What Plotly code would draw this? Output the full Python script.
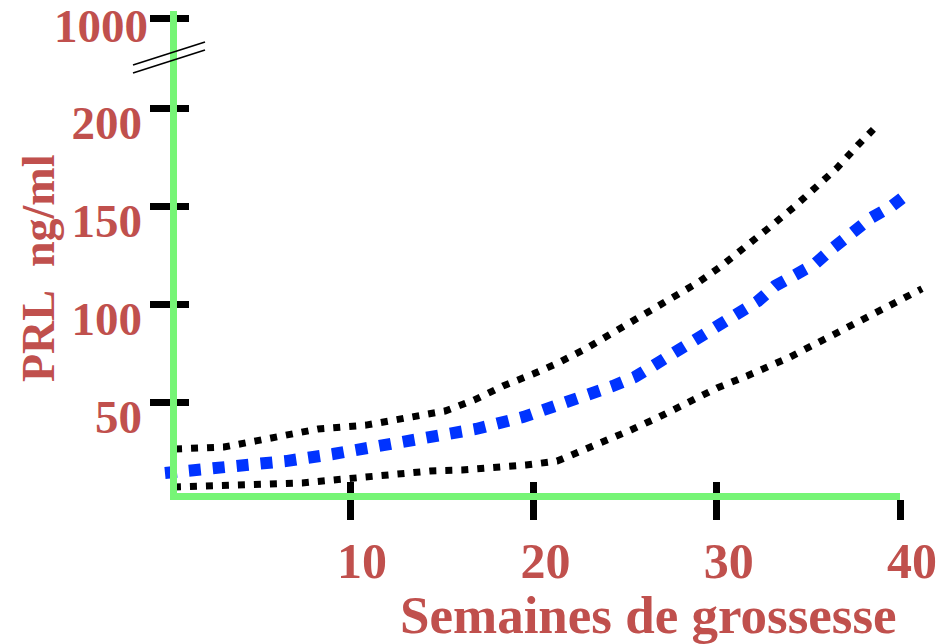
import plotly.graph_objects as go

# ---------------- data ----------------
weeks_upper = [0.45, 3.12, 4.87, 6.56, 8.25, 10.87, 13.49, 15.18, 16.76, 18.34, 19.98,
               21.34, 22.92, 24.40, 25.92, 27.40, 28.93, 30.18, 31.60, 32.91, 34.22,
               35.25, 36.56, 37.71, 38.31, 38.55]
prl_upper = [26.1, 27.1, 30.2, 33.7, 36.3, 38.3, 42.4, 45.5, 51.1, 58.3, 64.4,
             70.0, 77.7, 85.9, 94.1, 102.2, 110.9, 119.1, 129.3, 139.6, 149.8,
             159.0, 169.7, 181.5, 187.6, 189.5]

weeks_mean = [-0.10, 1.32, 3.94, 6.50, 9.07, 11.69, 14.25, 16.87, 19.43, 20.63, 21.83,
              23.09, 24.34, 25.54, 26.69, 27.83, 28.93, 30.02, 31.27, 32.25, 33.18,
              34.33, 35.36, 36.34, 37.38, 38.42, 39.56, 40.33]
prl_mean = [13.8, 14.8, 16.9, 19.9, 23.5, 27.6, 31.7, 36.3, 42.4, 46.0, 50.6,
            54.7, 58.3, 62.9, 69.5, 75.2, 82.3, 88.4, 95.6, 101.7, 109.4,
            116.1, 120.7, 128.8, 136.5, 144.2, 150.3, 155.9]

weeks_lower = [0.39, 3.01, 5.63, 7.38, 9.07, 10.87, 12.56, 14.36, 16.10, 17.80, 19.60,
               21.29, 22.11, 23.74, 25.32, 26.85, 28.43, 30.02, 31.65, 34.00, 36.34,
               37.87, 39.40, 40.98, 41.20]
prl_lower = [6.6, 7.2, 7.7, 8.7, 10.2, 11.8, 13.3, 14.8, 15.3, 16.4, 17.9,
             19.9, 23.0, 29.1, 35.8, 42.4, 49.6, 57.3, 63.4, 73.1, 84.4,
             92.0, 99.7, 106.9, 108.0]

x_ticks = [10, 20, 30, 40]
y_ticks_low = [50, 100, 150, 200]
y_ticks_high = [1000]

x_title = "Semaines de grossesse"
y_title = "PRL\u00a0\u00a0ng/ml"

# ---------------- geometry / style ----------------
W, H = 942, 644
GREEN = "#76f576"
RED = "#c0504d"
BLUE = "#0033ff"
FONT = "Liberation Serif"
LW = 7               # axis line width

SX = 18.33           # px per week
X40 = 900            # px of week 40
SY = 1.956           # px per ng/ml (lower part)
Y0 = 500             # px of 0 ng/ml
X_AXIS_PX = 496      # centre of the x axis line
Y_AXIS_PX = 173      # centre of the y axis line
BREAK_PX = 60
TOP_PX = 11

X_DOM0 = Y_AXIS_PX + LW / 2     # plot-area edge (line drawn outside)
Y_DOM0 = X_AXIS_PX - LW / 2


def px(v):
    return v / W


def py(v):
    return 1 - v / H


data_x_range = [40 - (X40 - 150) / SX, 40 + (W - X40) / SX]
vis_x_range = [40 - (X40 - X_DOM0) / SX, 40]
low_y_range = [(Y0 - Y_DOM0) / SY, (Y0 - BREAK_PX) / SY]
high_y_range = [1000 - (BREAK_PX - 18), 1000 + (18 - TOP_PX)]

fig = go.Figure()
line_common = dict(mode="lines", hoverinfo="skip", showlegend=False)
fig.add_trace(go.Scatter(x=weeks_upper, y=prl_upper,
                         line=dict(color="black", width=7, dash="7px,9px"), **line_common))
fig.add_trace(go.Scatter(x=weeks_lower, y=prl_lower,
                         line=dict(color="black", width=7, dash="7px,9px"), **line_common))
fig.add_trace(go.Scatter(x=weeks_mean, y=prl_mean,
                         line=dict(color=BLUE, width=12, dash="12px,12px"), **line_common))

# empty traces so that the decorative axes get their subplots drawn
for xa, ya in [("x2", "y"), ("x3", "y"), ("x2", "y2"), ("x2", "y3"), ("x2", "y4")]:
    fig.add_trace(go.Scatter(x=[], y=[], xaxis=xa, yaxis=ya, **line_common))

tickfont_x = dict(family=FONT, size=50, color=RED, weight="bold")
tickfont_y = dict(family=FONT, size=47, color=RED, weight="bold")

hidden = dict(showline=False, showticklabels=False, ticks="", showgrid=False,
              zeroline=False, automargin=False)
common = dict(showgrid=False, zeroline=False, automargin=False, tickmode="array",
              tickwidth=7, tickcolor="black")

fig.update_layout(
    width=W, height=H, autosize=False,
    margin=dict(l=0, r=0, t=0, b=0, pad=0, autoexpand=False),
    paper_bgcolor="white", plot_bgcolor="rgba(0,0,0,0)",
    showlegend=False,
    # data axis (invisible, wider so the curves are not clipped)
    xaxis=dict(domain=[px(150), 1.0], range=data_x_range, anchor="y", **hidden),
    # visible x axis
    xaxis2=dict(domain=[px(X_DOM0), px(X40)], range=vis_x_range, anchor="y",
                showline=True, linecolor=GREEN, linewidth=LW, layer="below traces",
                ticks="outside", ticklen=20,
                tickvals=x_ticks, ticktext=[str(v) for v in x_ticks],
                tickfont=tickfont_x, ticklabelshift=12, ticklabelstandoff=-2, **common),
    xaxis3=dict(overlaying="x2", range=vis_x_range, anchor="y",
                showline=False, showticklabels=False,
                ticks="inside", ticklen=11, tickvals=x_ticks, **common),
    # lower y axis
    yaxis=dict(domain=[py(Y_DOM0), py(BREAK_PX)], range=low_y_range, anchor="x2",
               showline=True, linecolor=GREEN, linewidth=LW, layer="below traces",
               ticks="outside", ticklen=20,
               tickvals=y_ticks_low, ticktext=[str(v) for v in y_ticks_low],
               tickfont=tickfont_y, ticklabelshift=14, ticklabelstandoff=-2, **common),
    yaxis3=dict(overlaying="y", range=low_y_range, anchor="x2", side="left",
                showline=False, showticklabels=False,
                ticks="inside", ticklen=12, tickvals=y_ticks_low, **common),
    # upper y axis (after the break)
    yaxis2=dict(domain=[py(BREAK_PX), py(TOP_PX)], range=high_y_range, anchor="x2",
                showline=True, linecolor=GREEN, linewidth=LW, layer="below traces",
                ticks="outside", ticklen=20,
                tickvals=y_ticks_high, ticktext=[str(v) for v in y_ticks_high],
                tickfont=tickfont_y, ticklabelshift=8, ticklabelstandoff=-8, **common),
    yaxis4=dict(overlaying="y2", range=high_y_range, anchor="x2", side="left",
                showline=False, showticklabels=False,
                ticks="inside", ticklen=12, tickvals=y_ticks_high, **common),
)

# axis break marks
for dy in (0, 8):
    fig.add_shape(type="line", xref="paper", yref="paper",
                  x0=px(133), y0=py(65 + dy), x1=px(205), y1=py(42 + dy),
                  line=dict(color="black", width=1.6), layer="above")

# axis titles
fig.add_annotation(text=x_title, xref="paper", yref="paper",
                   x=px(648), y=py(615), xanchor="center", yanchor="middle",
                   showarrow=False, font=dict(family=FONT, size=53, color=RED, weight="bold"))
fig.add_annotation(text=y_title, xref="paper", yref="paper", textangle=-90,
                   x=px(38), y=py(269), xanchor="center", yanchor="middle",
                   showarrow=False, font=dict(family=FONT, size=46, color=RED, weight="bold"))

fig.write_html("out.html", config={"displayModeBar": False, "responsive": False},
               post_script="document.body.style.margin='0';")
